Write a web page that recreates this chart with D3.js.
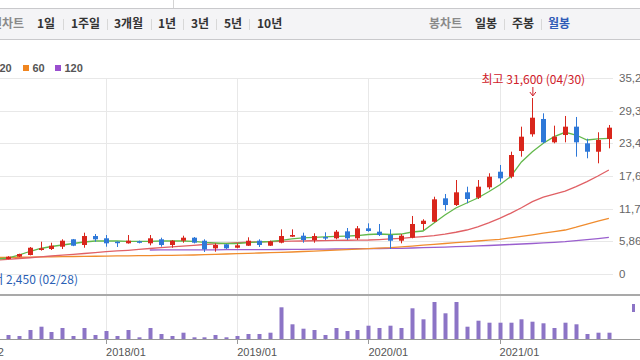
<!DOCTYPE html>
<html><head><meta charset="utf-8">
<script src="https://cdn.jsdelivr.net/npm/d3@7"></script>
<style>
html,body{margin:0;padding:0;background:#fff;}
svg{display:block;}
text{font-family:"Noto Sans CJK KR","Liberation Sans",sans-serif;}
</style></head>
<body><svg id="c" width="640" height="360"></svg>
<script>
// ---- data (monthly, 2016/12 .. 2021/11) ----
const months = [];
for (let y = 2016, m = 12; months.length < 60; ) {
  months.push(y + "/" + String(m).padStart(2, "0"));
  m++; if (m > 12) { m = 1; y++; }
}
const openV  = [3050,2900,2700,2600,2690,3110,3410,4310,4490,4900,6230,5210,6820,6410,5800,5510,5870,5510,6230,5210,5980,6520,5980,4610,5330,4720,5080,5980,5080,5620,6700,6880,6100,6640,6410,7660,6410,8200,7600,7000,5980,6520,8980,9390,13590,12390,14670,13700,15570,18370,17470,22090,25090,27840,23650,24960,26460,23470,21960,24250];
const closeV = [2900,2700,2600,2750,3100,3590,4720,4610,5080,5980,5080,6820,6230,5510,5620,5980,5620,6410,5210,5980,6520,5620,4430,5210,4610,5150,5980,5210,5870,6820,7000,6100,6820,6540,7600,6410,8200,7720,7000,5980,6880,8980,9570,13410,12390,14670,13470,15680,17470,17180,21370,24660,28070,23650,24660,26460,23650,21960,24070,26280];
const highV  = [3150,2950,2750,2850,3200,3650,4850,5800,5620,6230,6290,7420,7180,7000,5850,7000,5990,7000,6520,6100,6880,6640,6230,5510,5390,5510,6590,6230,5990,8020,8020,7420,7310,7490,7900,8260,8620,9100,8980,8020,7180,10420,9830,13880,14370,16880,15680,16880,18090,19580,21970,26460,31600,28860,26640,28380,28200,24300,25450,26760];
const lowV   = [2850,2650,2450,2550,2650,3050,3350,4200,4310,4490,5000,4720,5800,4900,4850,5450,5500,5150,4900,4720,5620,5500,3950,4000,4490,4610,5030,4850,5030,5510,6640,5620,5620,6100,6230,6110,6110,7600,6820,4490,5510,6410,7900,9280,11370,12210,12700,13470,15210,16570,17180,21070,24660,23470,23470,23650,21070,20780,19880,22570];
const volumeV = [300000,350000,500000,450000,400000,300000,900000,1230000,700000,1100000,300000,1100000,400000,800000,300000,900000,170000,1100000,500000,300000,630000,170000,170000,400000,170000,300000,500000,500000,630000,3170000,1470000,1030000,900000,400000,1100000,800000,900000,1330000,1100000,1330000,1100000,3070000,1970000,3700000,2570000,3700000,1230000,1830000,1630000,1630000,1630000,1970000,1730000,1570000,1100000,1630000,1470000,500000,630000,630000];
const ma5   = [3100,2980,2850,2690,2870,3410,4040,4580,4940,5210,5480,5750,5930,5930,5930,5870,5870,5870,5930,5930,5930,5870,5690,5570,5480,5480,5660,5750,5840,6050,6290,6470,6560,6650,6740,6820,6910,7090,7180,7090,7180,7540,7720,9160,10600,11850,12750,13650,14780,15980,17480,20120,21970,23470,24660,25450,24960,24070,24250,24370];
const ma20  = [2500,2480,2470,2510,2640,2780,2920,3070,3230,3380,3530,3680,3840,4000,4140,4260,4420,4580,4720,4860,5000,5150,5300,5400,5510,5620,5700,5760,5810,5860,5900,5930,5970,6000,6030,6060,6090,6110,6180,6290,6410,6560,6730,6910,7180,7500,7900,8480,9200,10000,10900,11900,13000,13800,14350,14900,15700,16600,17600,18680];
const ma60  = [2900,2920,2940,2960,2990,3010,3040,3060,3090,3110,3140,3160,3190,3210,3240,3260,3290,3310,3340,3360,3390,3410,3470,3530,3590,3650,3710,3770,3830,3890,3950,4040,4120,4210,4300,4380,4470,4550,4640,4720,4870,5020,5170,5320,5480,5630,5780,5930,6080,6230,6490,6760,7040,7330,7610,7900,8400,8950,9480,10000];
const ma120 = [null,null,null,null,null,null,null,null,null,null,null,null,null,null,null,null,null,4310,4320,4330,4340,4340,4350,4350,4360,4360,4370,4380,4390,4400,4410,4430,4450,4470,4490,4510,4540,4560,4580,4600,4620,4670,4720,4780,4840,4900,4970,5040,5120,5210,5300,5390,5480,5580,5690,5800,5980,6170,6370,6590];
const priceTicks = [0, 5866, 11733, 17600, 23466, 29333, 35200];
const xTickLabels = ["2016/12", "2018/01", "2019/01", "2020/01", "2021/01"];
const periodTabs = ["1일", "1주일", "3개월", "1년", "3년", "5년", "10년"];
const candleTabs = ["일봉", "주봉", "월봉"];
const maLegend = [{label: "20", color: "#e5484d"}, {label: "60", color: "#f0851f"}, {label: "120", color: "#9a4fcf"}];
const highNote = {idx: 52, text: "최고 31,600 (04/30)"};
const lowNote = {text: "최저 2,450 (02/28)"};

// ---- drawing ----
const svg = d3.select("#c");
svg.append("rect").attr("width", 640).attr("height", 360).attr("fill", "#fff");

// toolbar
svg.append("line").attr("x1", 173.5).attr("x2", 173.5).attr("y1", 0).attr("y2", 8).attr("stroke", "#d4d4d4");
svg.append("rect").attr("x", -1).attr("y", 8.5).attr("width", 642).attr("height", 31).attr("fill", "#f4f4f6").attr("stroke", "#c9c9cc");
svg.append("text").attr("x", 24).attr("y", 28).attr("text-anchor", "end").attr("font-size", 12).attr("font-weight", "bold").attr("fill", "#8a8a8a").text("선차트");
const tabX = [37, 71, 114, 158, 191, 224, 257];
const sepX = [63.5, 107.5, 151.5, 183.5, 216.5, 249.5];
svg.selectAll(".ptab").data(periodTabs).join("text").attr("class", "ptab")
  .attr("x", (d, i) => tabX[i]).attr("y", 28).attr("font-size", 12).attr("font-weight", "bold").attr("fill", "#333").text(d => d);
svg.selectAll(".psep").data(sepX).join("line").attr("class", "psep")
  .attr("x1", d => d).attr("x2", d => d).attr("y1", 19).attr("y2", 30).attr("stroke", "#d8d8d8");
svg.append("text").attr("x", 429).attr("y", 28).attr("font-size", 12).attr("font-weight", "bold").attr("fill", "#8a8a8a").text("봉차트");
const cTabX = [475, 512, 548];
svg.selectAll(".ctab").data(candleTabs).join("text").attr("class", "ctab")
  .attr("x", (d, i) => cTabX[i]).attr("y", 28).attr("font-size", 12).attr("font-weight", "bold")
  .attr("fill", (d, i) => i === 2 ? "#2f5bb7" : "#333").text(d => d);
[504.5, 541.5].forEach(x => svg.append("line").attr("x1", x).attr("x2", x).attr("y1", 19).attr("y2", 30).attr("stroke", "#d8d8d8"));

// legend
const legX = [-10, 23, 55];
maLegend.forEach((d, i) => {
  svg.append("rect").attr("x", legX[i]).attr("y", 65).attr("width", 6).attr("height", 6).attr("fill", d.color);
  svg.append("text").attr("x", legX[i] + 9.5).attr("y", 72).attr("font-size", 11).attr("font-weight", "bold").attr("fill", "#555")
    .style("font-family", "'Liberation Sans',sans-serif").text(d.label);
});

// scales
const x = d3.scalePoint().domain(months).range([-36, -36 + 59 * 10.93]);
const y = d3.scaleLinear().domain([0, 35200]).range([274, 78]);
const yv = d3.scaleLinear().domain([0, 4200000]).range([339, 297]);

// grid
svg.append("g").selectAll("line").data(priceTicks).join("line")
  .attr("x1", 0).attr("x2", 613).attr("y1", d => Math.round(y(d)) + 0.5).attr("y2", d => Math.round(y(d)) + 0.5)
  .attr("stroke", "#e8e8e8");
const tickMonths = xTickLabels;
svg.append("g").selectAll("line").data(tickMonths).join("line")
  .attr("x1", d => Math.round(x(d)) + 0.5).attr("x2", d => Math.round(x(d)) + 0.5).attr("y1", 78).attr("y2", 339)
  .attr("stroke", "#e8e8e8");
svg.append("g").selectAll("text").data(priceTicks).join("text")
  .attr("x", 619).attr("y", d => y(d) + 4).attr("font-size", 11.5).attr("fill", "#666")
  .style("font-family", "'Liberation Sans',sans-serif").text(d => d3.format(",")(d));

// moving averages
const line = d3.line().defined(d => d[1] != null).x(d => x(d[0])).y(d => y(d[1]));
const maSeries = [[ma120, "#9a5fce"], [ma60, "#f08c2e"], [ma20, "#e06065"], [ma5, "#63b84c"]];
maSeries.forEach(([arr, col]) => {
  svg.append("path").datum(months.map((m, i) => [m, arr[i]])).attr("d", line)
    .attr("fill", "none").attr("stroke", col).attr("stroke-width", 1.3);
});

// candles
const cd = months.map((m, i) => ({m, o: openV[i], c: closeV[i], h: highV[i], l: lowV[i], v: volumeV[i]}));
const colUp = "#d9261c", colDn = "#2e78d8";
const cg = svg.append("g").selectAll("g").data(cd).join("g");
cg.append("line").attr("x1", d => Math.round(x(d.m)) + 0.5).attr("x2", d => Math.round(x(d.m)) + 0.5)
  .attr("y1", d => y(d.h)).attr("y2", d => y(d.l)).attr("stroke", d => d.c >= d.o ? colUp : colDn);
cg.append("rect").attr("x", d => Math.round(x(d.m)) - 2).attr("width", 5)
  .attr("y", d => y(Math.max(d.o, d.c))).attr("height", d => Math.max(1.5, Math.abs(y(d.o) - y(d.c))))
  .attr("fill", d => d.c >= d.o ? colUp : colDn);

// annotations
const hx = x(months[highNote.idx]);
svg.append("text").attr("x", hx + 1).attr("y", 84).attr("text-anchor", "middle").attr("font-size", 12).attr("fill", "#d0202a").text(highNote.text);
svg.append("line").attr("x1", hx + 0.5).attr("x2", hx + 0.5).attr("y1", 87).attr("y2", 95).attr("stroke", "#d0202a");
svg.append("path").attr("d", `M${hx - 2.5},92 L${hx + 0.5},96 L${hx + 3.5},92`).attr("fill", "none").attr("stroke", "#d0202a");
svg.append("text").attr("x", 78).attr("y", 284).attr("text-anchor", "end").attr("font-size", 12).attr("fill", "#2b5fb5").text(lowNote.text);

// panel separators
svg.append("line").attr("x1", 0).attr("x2", 640).attr("y1", 295).attr("y2", 295).attr("stroke", "#a9a9a9").attr("stroke-width", 2);

// volume
svg.append("g").selectAll("rect").data(cd).join("rect")
  .attr("x", d => Math.round(x(d.m)) - 1.5).attr("width", 4)
  .attr("y", d => yv(d.v)).attr("height", d => 339 - yv(d.v)).attr("fill", "#8c74c6");
svg.append("line").attr("x1", 0).attr("x2", 640).attr("y1", 339.5).attr("y2", 339.5).attr("stroke", "#999");
svg.append("g").selectAll("line").data(tickMonths).join("line")
  .attr("x1", d => Math.round(x(d)) + 0.5).attr("x2", d => Math.round(x(d)) + 0.5).attr("y1", 339).attr("y2", 344).attr("stroke", "#999");
svg.append("g").selectAll("text").data(tickMonths).join("text")
  .attr("x", d => x(d)).attr("y", 356).attr("font-size", 11).attr("fill", "#555")
  .style("font-family", "'Liberation Sans',sans-serif").text(d => d);
svg.append("rect").attr("x", 632).attr("y", 304).attr("width", 3).attr("height", 8).attr("fill", "#8c74c6");
</script></body></html>
